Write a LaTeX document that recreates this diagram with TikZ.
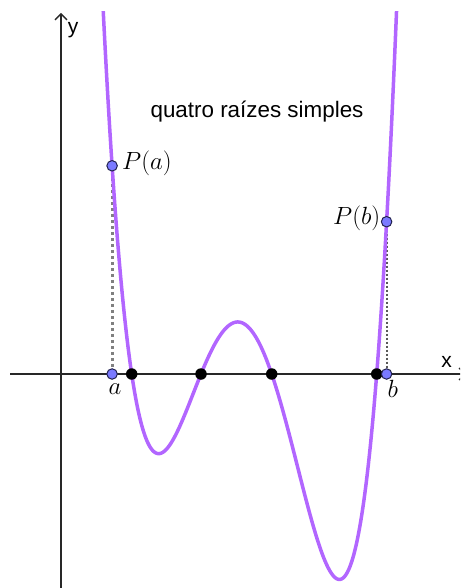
\documentclass[tikz,border=0pt]{standalone}
\usepackage{fontspec}
\setsansfont{Liberation Sans}
\usetikzlibrary{arrows.meta}
\definecolor{curvecol}{RGB}{178,102,255}
\definecolor{ptfill}{RGB}{122,122,255}
\definecolor{ptdraw}{RGB}{35,35,80}
\definecolor{axiscol}{RGB}{40,40,40}
\tikzset{
  axis/.style={draw=axiscol, line width=1.4pt},
  root/.style={circle, fill=black, inner sep=0pt, minimum size=11.5pt},
  bluept/.style={circle, fill=ptfill, draw=ptdraw, line width=1pt, inner sep=0pt, minimum size=10.5pt},
  guideA/.style={draw=gray, line width=3.2pt, dash pattern=on 3pt off 3pt},
  guideB/.style={draw=black!65, line width=2pt, dash pattern=on 2pt off 2pt},
  poly/.style={draw=curvecol, line width=3.5pt},
  sflab/.style={font=\sffamily\fontsize{21}{24}\selectfont, inner sep=0pt},
  mlab/.style={font=\fontsize{27}{31}\selectfont, inner sep=0pt}
}
\begin{document}
\begin{tikzpicture}[x=1pt,y=-1pt]
\useasboundingbox (0,0) rectangle (460,588);
\begin{scope}
\clip (0,0) rectangle (460,588);
% axes
\coordinate (xl) at (10,374);
\coordinate (xr) at (466,374);
\coordinate (yb) at (61,590);
\coordinate (yt) at (61,13);
\draw[axis, -{Straight Barb[length=6pt,width=12pt]}] (xl) -- (xr);
\draw[axis, -{Straight Barb[length=6pt,width=12pt]}] (yb) -- (yt);
\node[sflab, anchor=base] (xlab) at (446.5,367.5) {x};
\node[sflab, anchor=base] (ylab) at (73,33.7) {y};
% points
\coordinate (A) at (112.1,374);
\coordinate (PA) at (112.1,165.8);
\coordinate (B) at (386.6,374);
\coordinate (PB) at (386.6,221.7);
\draw[guideA] (PA) -- (A);
\draw[guideB] (PB) -- (B);
% curve
\begin{scope}
\clip (0,12) rectangle (460,588);
\draw[poly] plot[domain=100:399, samples=400, smooth]
  (\x, {374 - 283*(\x/100-1.317)*(\x/100-2.01)*(\x/100-2.717)*(\x/100-3.767)});
\end{scope}
\node[root] (r1) at (131.7,374) {};
\node[root] (r2) at (201,374) {};
\node[root] (r3) at (271.7,374) {};
\node[root] (r4) at (376.7,374) {};
\node[bluept] (pa) at (PA) {};
\node[bluept] (a) at (A) {};
\node[bluept] (pb) at (PB) {};
\node[bluept] (b) at (B) {};
\node[mlab, anchor=base west] (lpa) at (122,169.5) {$P(a)$};
\node[mlab, anchor=base east] (lpb) at (380.5,224) {$P(b)$};
\node[mlab, anchor=base] (la) at (115,394) {$a$};
\node[mlab, anchor=base] (lb) at (392.8,397.3) {$b$};
\node[sflab, font=\sffamily\fontsize{22.4}{26}\selectfont, anchor=base] (title) at (257,117.3) {quatro raízes simples};
\end{scope}
\end{tikzpicture}
\end{document}
